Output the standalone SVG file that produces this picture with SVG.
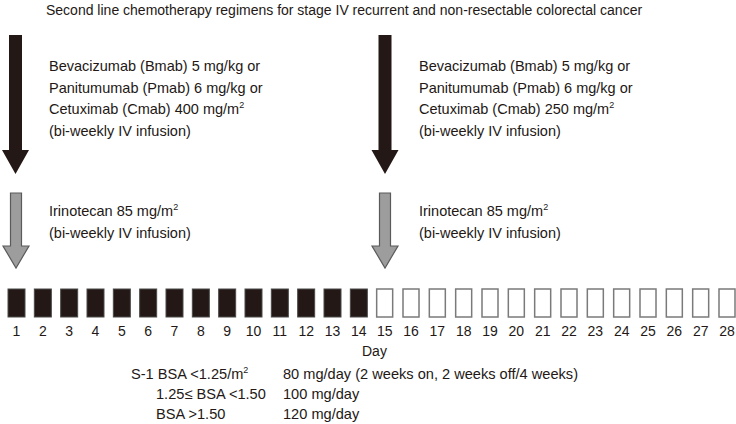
<svg xmlns="http://www.w3.org/2000/svg" width="736" height="424" viewBox="0 0 736 424">
<style>
text{font-family:"Liberation Sans",Arial,sans-serif;font-size:14px;fill:#231815}
.b{font-size:14.5px}
.d{font-size:14.6px}
.num{text-anchor:middle}
.on{fill:#231815;stroke:#4a4a4a;stroke-width:1}
.off{fill:#fff;stroke:#7a7a7a;stroke-width:1.5}
.blk{fill:#231815}
.gry{fill:#9d9d9d;stroke:#5a5a5a;stroke-width:1.2}
</style>
<rect width="736" height="424" fill="#fff"/>
<text id="title" x="46" y="15">Second line chemotherapy regimens for stage IV recurrent and non-resectable colorectal cancer</text>
<g id="arrows">
<polygon id="arrowA1" class="blk" points="9,35 22,35 22,150 29,150 15.5,174 2,150 9,150"/>
<polygon id="arrowA2" class="gry" points="10.5,193 21.5,193 21.5,246 29,246 16,268 3,246 10.5,246"/>
<polygon id="arrowB1" class="blk" points="378.5,35 391.5,35 391.5,150 398.5,150 385,174 371.5,150 378.5,150"/>
<polygon id="arrowB2" class="gry" points="379.5,193 390.5,193 390.5,246 398,246 385,268 372,246 379.5,246"/>
</g>
<g id="textA1" class="b">
<text class="b" x="49" y="71">Bevacizumab (Bmab) 5 mg/kg or</text>
<text class="b" x="49" y="92.5">Panitumumab (Pmab) 6 mg/kg or</text>
<text class="b" x="49" y="114">Cetuximab (Cmab) 400 mg/m<tspan font-size="9" dy="-6">2</tspan></text>
<text class="b" x="49" y="135.5">(bi-weekly IV infusion)</text>
</g>
<g id="textB1">
<text class="b" x="419" y="71">Bevacizumab (Bmab) 5 mg/kg or</text>
<text class="b" x="419" y="92.5">Panitumumab (Pmab) 6 mg/kg or</text>
<text class="b" x="419" y="114">Cetuximab (Cmab) 250 mg/m<tspan font-size="9" dy="-6">2</tspan></text>
<text class="b" x="419" y="135.5">(bi-weekly IV infusion)</text>
</g>
<g id="textA2">
<text class="b" x="49" y="216">Irinotecan 85 mg/m<tspan font-size="9" dy="-6">2</tspan></text>
<text class="b" x="49" y="237.5">(bi-weekly IV infusion)</text>
</g>
<g id="textB2">
<text class="b" x="419" y="216">Irinotecan 85 mg/m<tspan font-size="9" dy="-6">2</tspan></text>
<text class="b" x="419" y="237.5">(bi-weekly IV infusion)</text>
</g>
<g id="days">
<rect class="on" x="8" y="289" width="17" height="28"/>
<rect class="on" x="34.33" y="289" width="17" height="28"/>
<rect class="on" x="60.67" y="289" width="17" height="28"/>
<rect class="on" x="87" y="289" width="17" height="28"/>
<rect class="on" x="113.33" y="289" width="17" height="28"/>
<rect class="on" x="139.67" y="289" width="17" height="28"/>
<rect class="on" x="166" y="289" width="17" height="28"/>
<rect class="on" x="192.33" y="289" width="17" height="28"/>
<rect class="on" x="218.67" y="289" width="17" height="28"/>
<rect class="on" x="245" y="289" width="17" height="28"/>
<rect class="on" x="271.33" y="289" width="17" height="28"/>
<rect class="on" x="297.67" y="289" width="17" height="28"/>
<rect class="on" x="324" y="289" width="17" height="28"/>
<rect class="on" x="350.33" y="289" width="17" height="28"/>
<rect class="off" x="376.67" y="289" width="16" height="28"/>
<rect class="off" x="403" y="289" width="16" height="28"/>
<rect class="off" x="429.33" y="289" width="16" height="28"/>
<rect class="off" x="455.67" y="289" width="16" height="28"/>
<rect class="off" x="482" y="289" width="16" height="28"/>
<rect class="off" x="508.33" y="289" width="16" height="28"/>
<rect class="off" x="534.67" y="289" width="16" height="28"/>
<rect class="off" x="561" y="289" width="16" height="28"/>
<rect class="off" x="587.33" y="289" width="16" height="28"/>
<rect class="off" x="613.67" y="289" width="16" height="28"/>
<rect class="off" x="640" y="289" width="16" height="28"/>
<rect class="off" x="666.33" y="289" width="16" height="28"/>
<rect class="off" x="692.67" y="289" width="16" height="28"/>
<rect class="off" x="719" y="289" width="16" height="28"/>
</g>
<g id="daynums">
<text class="num" x="16.5" y="336">1</text>
<text class="num" x="42.8" y="336">2</text>
<text class="num" x="69.2" y="336">3</text>
<text class="num" x="95.5" y="336">4</text>
<text class="num" x="121.8" y="336">5</text>
<text class="num" x="148.2" y="336">6</text>
<text class="num" x="174.5" y="336">7</text>
<text class="num" x="200.8" y="336">8</text>
<text class="num" x="227.2" y="336">9</text>
<text class="num" x="253.5" y="336">10</text>
<text class="num" x="279.8" y="336">11</text>
<text class="num" x="306.2" y="336">12</text>
<text class="num" x="332.5" y="336">13</text>
<text class="num" x="358.8" y="336">14</text>
<text class="num" x="384.7" y="336">15</text>
<text class="num" x="411" y="336">16</text>
<text class="num" x="437.3" y="336">17</text>
<text class="num" x="463.7" y="336">18</text>
<text class="num" x="490" y="336">19</text>
<text class="num" x="516.3" y="336">20</text>
<text class="num" x="542.7" y="336">21</text>
<text class="num" x="569" y="336">22</text>
<text class="num" x="595.3" y="336">23</text>
<text class="num" x="621.7" y="336">24</text>
<text class="num" x="648" y="336">25</text>
<text class="num" x="674.3" y="336">26</text>
<text class="num" x="700.7" y="336">27</text>
<text class="num" x="727" y="336">28</text>
</g>
<text id="daylabel" x="362" y="356">Day</text>
<g id="dosing">
<text class="d" x="131" y="379">S-1 BSA &lt;1.25/m<tspan font-size="9" dy="-6">2</tspan></text>
<text class="d" x="283" y="379">80 mg/day (2 weeks on, 2 weeks off/4 weeks)</text>
<text class="d" x="156" y="399">1.25≤ BSA &lt;1.50</text>
<text class="d" x="283" y="399">100 mg/day</text>
<text class="d" x="156" y="419">BSA &gt;1.50</text>
<text class="d" x="283" y="419">120 mg/day</text>
</g>
</svg>
